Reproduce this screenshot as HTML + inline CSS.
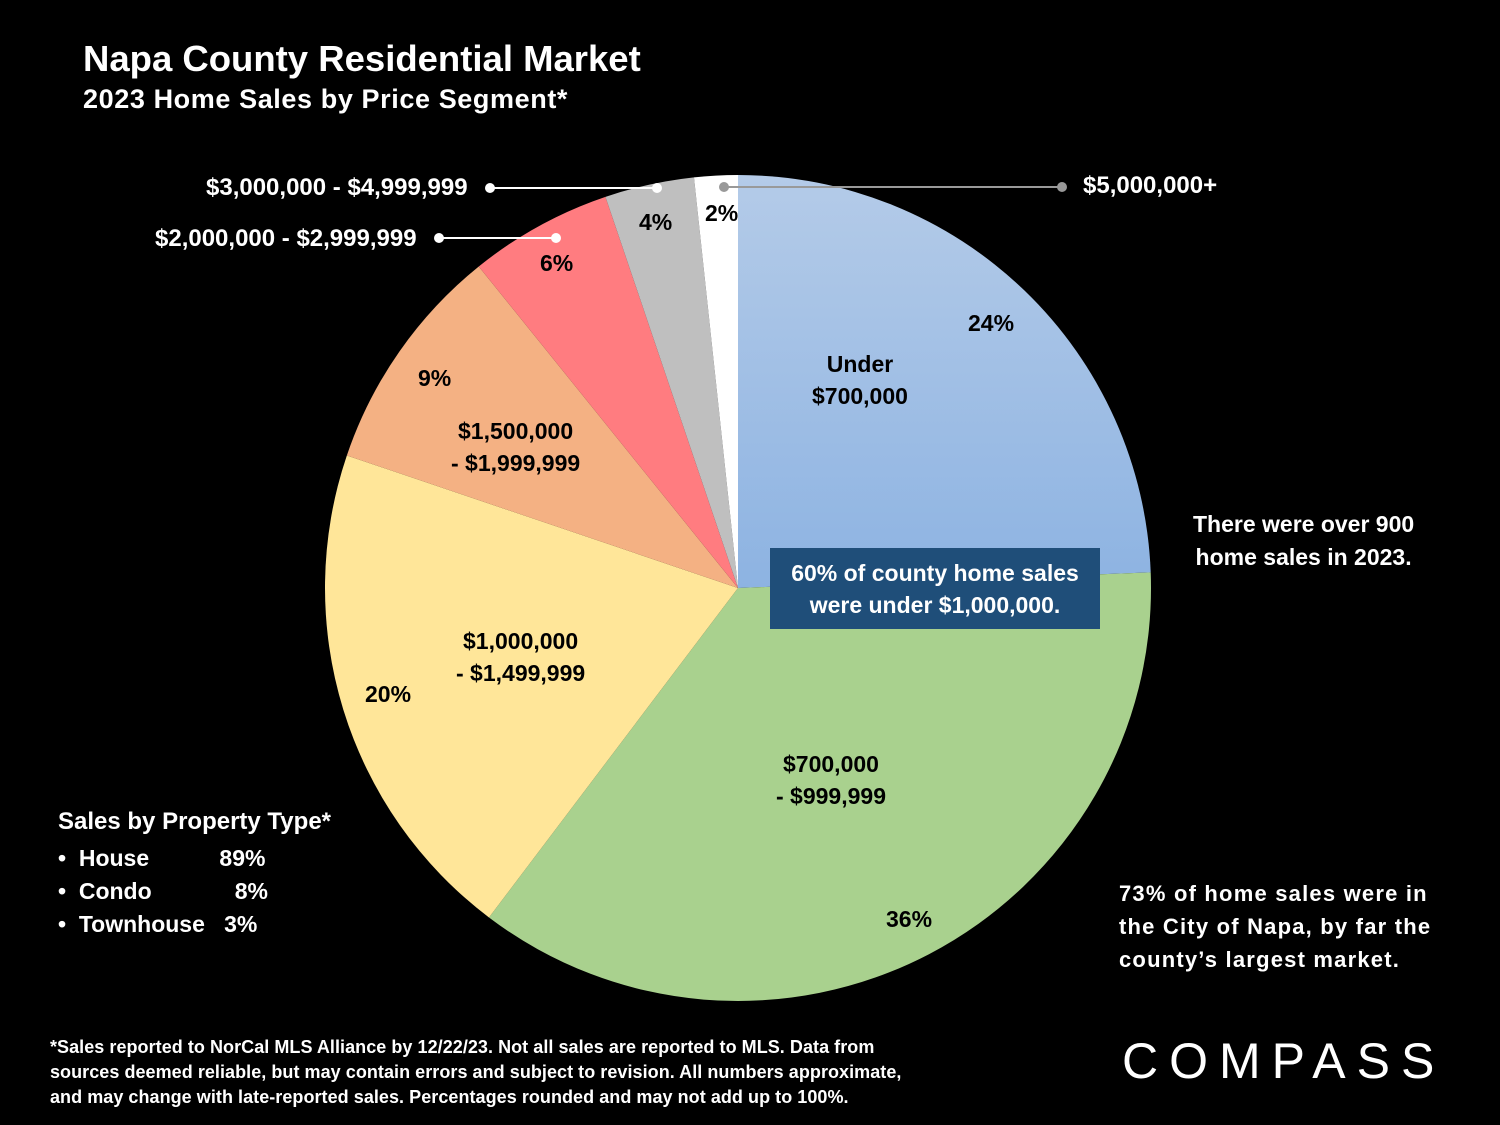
<!DOCTYPE html>
<html><head><meta charset="utf-8">
<style>
body{margin:0;background:#000;}
#root{position:relative;width:1500px;height:1125px;background:#000;overflow:hidden;font-family:"Liberation Sans",sans-serif;font-weight:bold;color:#fff;}
.t{position:absolute;white-space:nowrap;}
.dk{color:#000;}
</style></head><body>
<div id="root">
<div class="t" style="left:83px;top:38px;font-size:36.5px;">Napa County Residential Market</div>
<div class="t" style="left:83px;top:84px;font-size:27px;letter-spacing:0.6px;">2023 Home Sales by Price Segment*</div>
<svg id="pie" width="1500" height="1125" style="position:absolute;left:0;top:0">
<defs><linearGradient id="gb" x1="0" y1="0" x2="0" y2="1"><stop offset="0" stop-color="#b4cbe8"/><stop offset="1" stop-color="#8db3e2"/></linearGradient></defs>
<g id="slices"></g>
<g id="leaders" stroke="#fff" stroke-width="2"></g>
</svg>
<div class="t dk" style="left:968px;top:310px;font-size:23px;">24%</div>
<div class="t dk" style="left:812px;top:348px;font-size:23px;text-align:center;line-height:32px;">Under<br>$700,000</div>
<div class="t dk" style="left:776px;top:748px;font-size:23px;text-align:center;line-height:32px;">$700,000<br>- $999,999</div>
<div class="t dk" style="left:886px;top:906px;font-size:23px;">36%</div>
<div class="t dk" style="left:456px;top:625px;font-size:23px;text-align:center;line-height:32px;">$1,000,000<br>- $1,499,999</div>
<div class="t dk" style="left:365px;top:681px;font-size:23px;">20%</div>
<div class="t dk" style="left:451px;top:415px;font-size:23px;text-align:center;line-height:32px;">$1,500,000<br>- $1,999,999</div>
<div class="t dk" style="left:418px;top:365px;font-size:23px;">9%</div>
<div class="t dk" style="left:540px;top:250px;font-size:23px;">6%</div>
<div class="t dk" style="left:639px;top:209px;font-size:23px;">4%</div>
<div class="t dk" style="left:705px;top:200px;font-size:23px;">2%</div>
<div class="t" style="left:206px;top:174px;font-size:24px;">$3,000,000 - $4,999,999</div>
<div class="t" style="left:155px;top:225px;font-size:24px;">$2,000,000 - $2,999,999</div>
<div class="t" style="left:1083px;top:172px;font-size:24px;">$5,000,000+</div>
<div class="t" style="left:770px;top:548px;width:330px;height:81px;background:#1f4e79;font-size:23px;text-align:center;line-height:32px;padding-top:9px;box-sizing:border-box;">60% of county home sales<br>were under $1,000,000.</div>
<div class="t" style="left:1193px;top:508px;font-size:23px;line-height:33px;text-align:center;">There were over 900<br>home sales in 2023.</div>
<div class="t" style="left:1119px;top:877px;font-size:22px;line-height:33px;letter-spacing:1.2px;">73% of home sales were in<br>the City of Napa, by far the<br>county’s largest market.</div>
<div class="t" style="left:58px;top:808px;font-size:24px;">Sales by Property Type*</div>
<div class="t" style="left:58px;top:842px;font-size:23px;line-height:33px;">•&nbsp;&nbsp;House&nbsp;&nbsp;&nbsp;&nbsp;&nbsp;&nbsp;&nbsp;&nbsp;&nbsp;&nbsp;&nbsp;89%<br>•&nbsp;&nbsp;Condo&nbsp;&nbsp;&nbsp;&nbsp;&nbsp;&nbsp;&nbsp;&nbsp;&nbsp;&nbsp;&nbsp;&nbsp;&nbsp;8%<br>•&nbsp;&nbsp;Townhouse&nbsp;&nbsp;&nbsp;3%</div>
<div class="t" style="left:50px;top:1035px;font-size:18px;line-height:25px;letter-spacing:0.05px;">*Sales reported to NorCal MLS Alliance by 12/22/23. Not all sales are reported to MLS. Data from<br>sources deemed reliable, but may contain errors and subject to revision. All numbers approximate,<br>and may change with late-reported sales. Percentages rounded and may not add up to 100%.</div>
<div class="t" style="left:1122px;top:1032px;font-size:50px;font-weight:normal;letter-spacing:11px;">COMPASS</div>
</div>
<script>
const categories=["Under $700,000","$700,000 - $999,999","$1,000,000 - $1,499,999","$1,500,000 - $1,999,999","$2,000,000 - $2,999,999","$3,000,000 - $4,999,999","$5,000,000+"];
const values=[24.4,35.9,19.9,9.0,5.6,3.5,1.7];
const colors=["url(#gb)","#a9d18e","#ffe699","#f4b183","#ff7c80","#bfbfbf","#ffffff"];
const cx=738,cy=588,r=413;
const total=values.reduce((a,b)=>a+b,0);
const ns="http://www.w3.org/2000/svg";
const g=document.getElementById('slices');
function pt(a,rr){return [cx+rr*Math.sin(a),cy-rr*Math.cos(a)];}
let acc=0;
values.forEach((v,i)=>{
 const a0=acc/total*2*Math.PI;acc+=v;const a1=acc/total*2*Math.PI;
 const p0=pt(a0,r),p1=pt(a1,r);
 const large=(a1-a0)>Math.PI?1:0;
 const p=document.createElementNS(ns,'path');
 p.setAttribute('d',`M${cx},${cy}L${p0[0]},${p0[1]}A${r},${r} 0 ${large} 1 ${p1[0]},${p1[1]}Z`);
 p.setAttribute('fill',colors[i]);
 
 
 g.appendChild(p);
});
const L=document.getElementById('leaders');
[[490,188,657,188,"#fff"],[439,238,556,238,"#fff"],[724,187,1062,187,"#999"]].forEach(d=>{
 const l=document.createElementNS(ns,'line');
 l.setAttribute('x1',d[0]);l.setAttribute('y1',d[1]);l.setAttribute('x2',d[2]);l.setAttribute('y2',d[3]);
 l.setAttribute('stroke',d[4]);
 
 
 L.appendChild(l);
 [[d[0],d[1]],[d[2],d[3]]].forEach(c=>{
  const ci=document.createElementNS(ns,'circle');
  ci.setAttribute('cx',c[0]);ci.setAttribute('cy',c[1]);ci.setAttribute('r',5);ci.setAttribute('fill',d[4]);ci.setAttribute('stroke','none');
  
  
  L.appendChild(ci);
 });
});
</script>
</body></html>
